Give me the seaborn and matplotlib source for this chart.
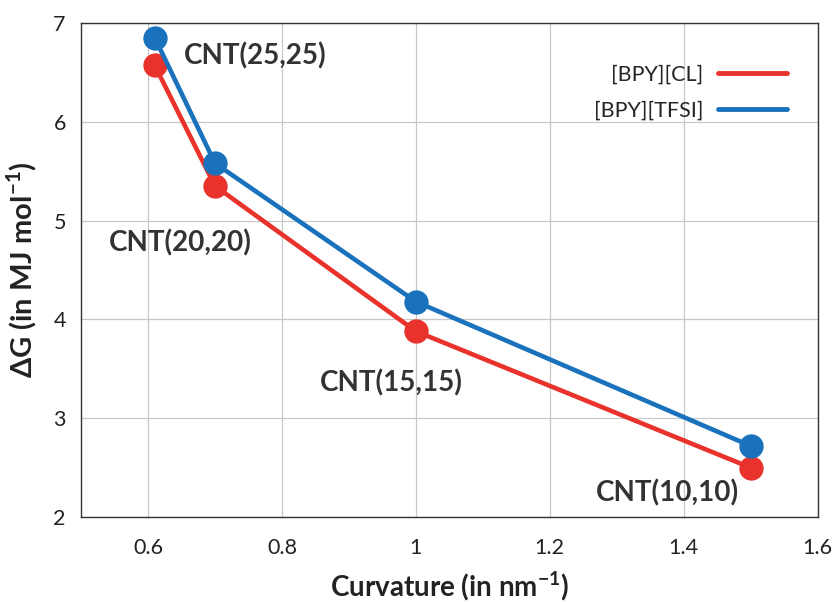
import numpy as np
import pandas as pd
import matplotlib
matplotlib.use('Agg')
import matplotlib.pyplot as plt
from matplotlib.lines import Line2D
import seaborn as sns

# Data
curvature = [0.61, 0.70, 1.00, 1.50]
dg_cl = [6.57, 5.35, 3.88, 2.50]
dg_tfsi = [6.85, 5.58, 4.18, 2.72]
series_names = ['[BPY][CL]', '[BPY][TFSI]']
cnt_labels = ['CNT(25,25)', 'CNT(20,20)', 'CNT(15,15)', 'CNT(10,10)']
label_pos = [(0.76, 6.67), (0.648, 4.77), (0.964, 3.36), (1.376, 2.25)]

sns.set_theme(style='white')
plt.rcParams['font.family'] = ['Lato', 'DejaVu Sans']
plt.rcParams['mathtext.fontset'] = 'custom'
plt.rcParams['mathtext.rm'] = 'Lato'
plt.rcParams['mathtext.bf'] = 'Lato:bold'

df = pd.DataFrame({
    'x': curvature * 2,
    'y': dg_cl + dg_tfsi,
    'series': [series_names[0]] * 4 + [series_names[1]] * 4,
})
colors = {'[BPY][CL]': '#E8322B', '[BPY][TFSI]': '#1A72BC'}

fig = plt.figure(figsize=(8.36, 6.02), dpi=100)
ax = fig.add_axes([0.097, 0.141, 0.881, 0.821])

sns.lineplot(data=df, x='x', y='y', hue='series', palette=colors,
             marker='o', markersize=17.5, markeredgewidth=0, linewidth=3.3,
             legend=False, ax=ax)

ax.set_xlim(0.5, 1.6)
ax.set_ylim(2, 7)
ax.set_xticks([0.6, 0.8, 1.0, 1.2, 1.4, 1.6])
ax.set_xticklabels(['0.6', '0.8', '1', '1.2', '1.4', '1.6'])
ax.set_yticks([2, 3, 4, 5, 6, 7])
ax.grid(True, color='#c8c8c8', linewidth=0.9)
ax.set_axisbelow(True)
for s in ax.spines.values():
    s.set_color('#333333')
    s.set_linewidth(1.0)
ax.tick_params(axis='both', direction='in', length=5, width=0.8, color='#555555',
               labelsize=15.5, labelcolor='#222222')
ax.tick_params(axis='x', pad=15)
ax.tick_params(axis='y', pad=11)

ax.set_xlabel(r'Curvature (in nm$^{\mathbf{-1}}$)', fontsize=20, fontweight='bold',
              color='#222222', labelpad=8)
ax.set_ylabel(r'$\mathbf{\Delta}$G (in MJ mol$^{\mathbf{-1}}$)', fontsize=21,
              fontweight='bold', color='#222222', labelpad=10)

for txt, (lx, ly) in zip(cnt_labels, label_pos):
    ax.text(lx, ly, txt, ha='center', va='center', fontsize=20,
            fontweight='bold', color='#333333')

handles = [Line2D([0], [0], color=colors[n], linewidth=3.5) for n in series_names]
ax.legend(handles, series_names, loc='upper right', bbox_to_anchor=(0.985, 0.955),
          frameon=False, markerfirst=False, fontsize=15.5, handlelength=3.2,
          labelspacing=0.75, handletextpad=0.7)

fig.savefig('out.png', dpi=100)
